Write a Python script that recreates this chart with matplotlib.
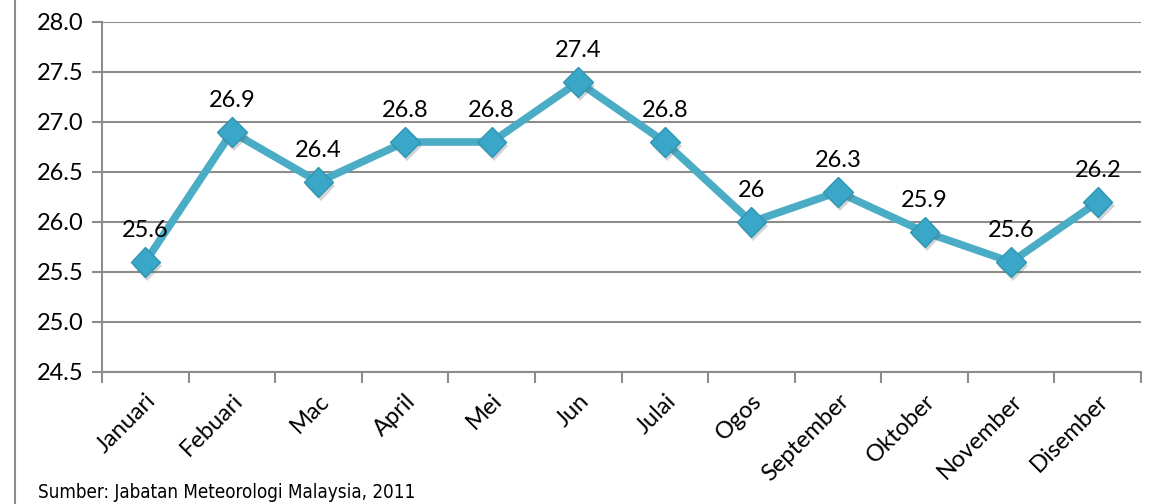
import matplotlib
matplotlib.use("Agg")
import matplotlib.pyplot as plt
from matplotlib.lines import Line2D
import matplotlib.patheffects as pe
from matplotlib import font_manager as fm
import numpy as np

months = ["Januari", "Febuari", "Mac", "April", "Mei", "Jun", "Julai",
          "Ogos", "September", "Oktober", "November", "Disember"]
temps = [25.6, 26.9, 26.4, 26.8, 26.8, 27.4, 26.8, 26.0, 26.3, 25.9, 25.6, 26.2]
labels = ["25.6", "26.9", "26.4", "26.8", "26.8", "27.4", "26.8", "26",
          "26.3", "25.9", "25.6", "26.2"]
yticks = [24.5, 25.0, 25.5, 26.0, 26.5, 27.0, 27.5, 28.0]
source = "Sumber: Jabatan Meteorologi Malaysia, 2011"

plt.rcParams['font.family'] = ['Lato', 'DejaVu Sans']

fig = plt.figure(figsize=(11.7, 5.04), dpi=100)
ax = fig.add_axes([102/1170, 1 - 372/504, (1141-102)/1170, (372-22)/504])

grid_c = "#8c8c8c"
line_c = "#4bacc6"
x = np.arange(len(months))
fs = 17

ax.set_xlim(-0.5, len(months) - 0.5)
ax.set_ylim(24.5, 28.0)
ax.set_yticks(yticks)
ax.set_yticklabels([f"{v:.1f}" for v in yticks], fontsize=fs)
for v in yticks:
    ax.axhline(v, color=grid_c, lw=1.5, zorder=1)

ax.set_xticks(np.arange(len(months) + 1) - 0.5, minor=False)
ax.set_xticklabels([])
ax.set_xticks(x, minor=True)
ax.set_xticklabels(months, minor=True, rotation=45, ha='right',
                   rotation_mode='anchor', fontsize=fs)
ax.tick_params(axis='x', which='major', length=8, width=1.5, color=grid_c)
ax.tick_params(axis='x', which='minor', length=0, pad=13)
ax.tick_params(axis='y', length=7, width=1.5, color=grid_c, pad=6)

for s in ["top", "right"]:
    ax.spines[s].set_visible(False)
for s in ["left", "bottom"]:
    ax.spines[s].set_color(grid_c)
    ax.spines[s].set_linewidth(1.5)

ax.plot(x, temps, color=line_c, lw=5.5, zorder=3, solid_joinstyle='miter')
ax.plot(x, temps, linestyle='none', marker='D', markersize=15,
        markerfacecolor="#3aa7c8", markeredgecolor="#2f95b3", markeredgewidth=1,
        zorder=4,
        path_effects=[pe.SimplePatchShadow(offset=(1.5, -3), alpha=0.25,
                                           shadow_rgbFace="#555555"), pe.Normal()])

for xi, t, lab in zip(x, temps, labels):
    ax.annotate(lab, (xi, t), xytext=(0, 15), textcoords='offset points',
                ha='center', va='bottom', fontsize=fs, zorder=5)

fig.add_artist(Line2D([15/1170, 15/1170], [0, 1], color=grid_c, lw=1.5))

fp = fm.FontProperties(family='DejaVu Sans', stretch='condensed', size=13.5)
fig.text(38/1170, 1 - 492/504, source, fontproperties=fp, va='center', ha='left')

fig.savefig("out.png", dpi=100)
